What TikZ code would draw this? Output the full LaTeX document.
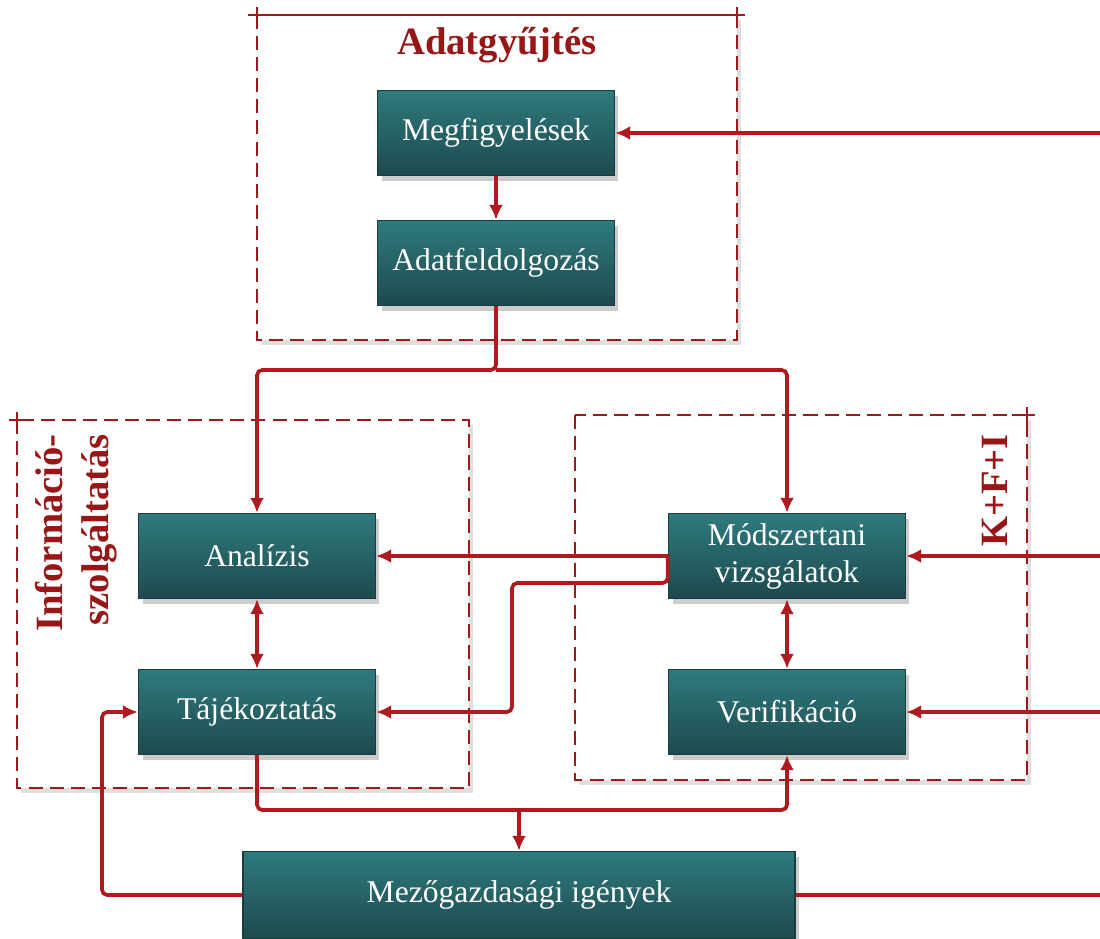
\documentclass[tikz,border=0pt]{standalone}
\usepackage{fontspec}
\setmainfont{Liberation Serif}
\usepackage{xcolor}
\usetikzlibrary{arrows.meta,positioning,shadows}
\definecolor{linered}{HTML}{B01A1F}
\definecolor{framered}{HTML}{9A1B1B}
\definecolor{titlered}{HTML}{981616}
\definecolor{tealtop}{HTML}{2E7A7E}
\definecolor{tealbot}{HTML}{1D4A4E}
\definecolor{tealedge}{HTML}{1B3C3E}

\begin{document}
\begin{tikzpicture}[
  x=0.02cm, y=-0.02cm,
  box/.style={draw=tealedge, line width=0.8pt, top color=tealtop, bottom color=tealbot, text=white, font=\fontsize{18}{21}\selectfont, align=center, minimum width=4.74cm, minimum height=1.7cm, drop shadow={shadow xshift=0.08cm, shadow yshift=-0.1cm, opacity=0.4}},
  frame/.style={draw=framered, dash pattern=on 8pt off 4pt, line width=1.5pt, fill=white, drop shadow={shadow xshift=0.08cm, shadow yshift=-0.1cm, opacity=0.25}},
  title/.style={text=titlered, font=\bfseries\fontsize{22}{26}\selectfont, align=right},
  arrow/.style={-{Latex[length=3mm, width=2.8mm]}, draw=linered, line width=2.1pt, rounded corners=3pt},
  twoway/.style={arrow, {Latex[length=3mm, width=2.8mm]}-{Latex[length=3mm, width=2.8mm]}},
  link/.style={draw=linered, line width=2.1pt, rounded corners=3pt}
]
\useasboundingbox (0,0) rectangle (1100,938);

\draw[frame] (257,15) rectangle (737,340);
\draw[frame] (17,420) rectangle (469,788);
\draw[frame] (575,415) rectangle (1027,780);
\draw[framered, line width=1.5pt] (248,15) -- (745,15) (257,7) -- (257,22) (737,7) -- (737,22);
\draw[framered, line width=1.5pt] (9,420) -- (30,420) (17,412) -- (17,430);
\draw[framered, line width=1.5pt] (1012,415) -- (1035,415) (1027,407) -- (1027,425);

\node[title] (gyujt) at (497,45) {Adatgyűjtés};
\node[title, rotate=90, anchor=east] (info) at (76,428) {Információ-\\szolgáltatás};
\node[title, rotate=90, anchor=east] (kfi) at (995,428) {K+F+I};

\node[box] (megf) at (496,133) {Megfigyelések};
\node[box] (adat) at (496,263) {Adatfeldolgozás};
\node[box] (anal) at (257,556) {Analízis};
\node[box] (taj) at (257,712) {Tájékoztatás};
\node[box] (modsz) at (787,556) {Módszertani\\vizsgálatok};
\node[box] (verif) at (787,712) {Verifikáció};
\node[box, minimum width=11.04cm, minimum height=1.74cm] (mezo) at (519,895) {Mezőgazdasági igények};

\coordinate (in1) at (1100,133);
\coordinate (in2) at (1100,556);
\coordinate (in3) at (1100,712);
\coordinate (out) at (1100,895);
\coordinate (split) at (496,370);
\coordinate (bend) at (512,583);
\coordinate (join) at (519,810);
\coordinate (back) at (102,712);

\draw[arrow] (in1) -- (megf.east);
\draw[arrow] (megf) -- (adat);
\draw[arrow] (adat.south) -- (split) -| (anal.north);
\draw[arrow] (split) -| (modsz.north);
\draw[arrow] (modsz.west) -- (anal.east);
\draw[arrow] (modsz.west) |- (bend) |- (taj.east);
\draw[twoway] (anal) -- (taj);
\draw[twoway] (modsz) -- (verif);
\draw[arrow] (in2) -- (modsz.east);
\draw[arrow] (in3) -- (verif.east);
\draw[arrow] (taj.south) |- (join) -| (verif.south);
\draw[arrow] (join) -- (mezo.north);
\draw[arrow] (mezo.west) -| (back) -- (taj.west);
\draw[link] (mezo.east) -- (out);
\end{tikzpicture}
\end{document}
